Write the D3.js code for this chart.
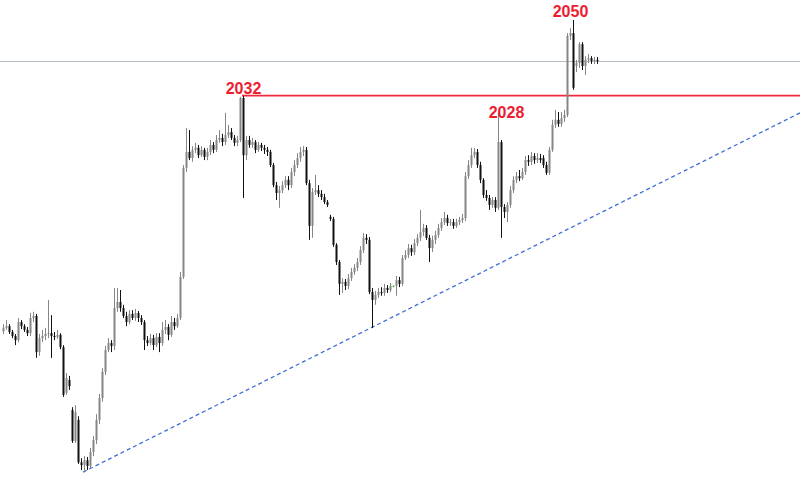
<!DOCTYPE html>
<html><head><meta charset="utf-8">
<script src="https://cdn.jsdelivr.net/npm/d3@7"></script>
<style>body{margin:0;background:#fff}svg{display:block}</style>
</head><body><svg id="c" width="800" height="482"></svg>
<script>
// candle data (price units)
const opens=[1974.8,1975.6,1976.0,1974.6,1973.6,1972.6,1977.0,1976.0,1975.1,1974.3,
1978.0,1978.5,1969.7,1973.1,1973.6,1974.1,1974.3,1973.6,1973.4,1973.9,
1970.9,1959.8,1962.9,1955.6,1948.1,1953.2,1942.9,1942.2,1943.4,1942.0,
1945.4,1948.3,1953.2,1958.5,1964.9,1970.2,1971.9,1971.2,1980.4,1981.9,
1980.4,1978.5,1977.0,1979.0,1978.0,1979.2,1978.0,1977.0,1972.6,1971.9,
1973.1,1971.4,1973.4,1971.9,1975.1,1975.8,1973.9,1977.0,1976.0,1978.0,
1988.0,2014.5,2018.4,2016.9,2018.9,2019.4,2017.6,2018.9,2017.2,2018.4,
2020.1,2018.9,2021.3,2021.8,2020.8,2022.5,2023.2,2021.8,2020.6,2021.3,
2031.5,2017.6,2021.3,2020.1,2020.8,2018.9,2020.1,2019.4,2018.9,2018.4,
2015.2,2010.3,2008.4,2009.1,2010.3,2011.6,2010.3,2013.5,2015.2,2016.9,
2018.4,2018.9,2010.8,2000.4,2008.6,2009.1,2008.2,2007.4,2006.2,2002.6,
2002.1,1995.8,1991.6,1986.3,1986.8,1985.8,1987.7,1989.2,1990.2,1991.6,
1994.5,1997.5,1997.0,1984.3,1982.4,1983.6,1984.3,1984.1,1985.3,1984.8,
1985.8,1985.8,1987.2,1986.3,1992.6,1993.3,1995.0,1994.0,1996.2,1997.5,
1998.9,1999.9,1997.5,1995.0,1997.0,1998.2,1999.9,2001.3,2002.3,2001.1,
2001.3,2000.4,2001.3,2001.8,2002.3,2012.5,2015.2,2017.6,2018.4,2015.2,
2011.6,2007.9,2007.2,2005.5,2006.7,2004.8,2020.8,2005.0,2003.8,2005.5,
2009.1,2011.6,2012.5,2012.0,2013.5,2016.4,2016.0,2017.4,2016.4,2016.9,
2016.9,2015.2,2013.3,2018.9,2025.0,2026.2,2025.2,2026.6,2027.4,2046.6,
2047.3,2039.3,2040.0,2044.6,2039.3,2040.8,2041.2,2040.5,2040.8];
const highs=[1976.5,1977.5,1976.5,1975.1,1974.1,1978.0,1977.5,1976.5,1975.8,1979.2,
1979.5,1979.0,1974.1,1975.1,1975.6,1982.4,1978.7,1974.6,1975.1,1974.3,
1971.4,1964.6,1963.9,1956.3,1956.8,1954.1,1943.9,1944.4,1944.2,1946.4,
1949.3,1954.6,1959.5,1965.8,1971.2,1973.1,1972.6,1985.3,1985.3,1984.8,
1981.2,1979.5,1979.9,1979.9,1980.2,1979.7,1978.7,1977.5,1973.6,1974.1,
1973.9,1974.3,1974.3,1977.0,1977.5,1976.5,1978.5,1978.0,1979.0,1989.2,
2015.2,2024.2,2023.7,2019.8,2020.6,2020.1,2019.8,2019.4,2019.4,2021.3,
2020.8,2022.5,2023.7,2022.8,2027.9,2025.0,2024.2,2022.5,2022.3,2031.8,
2032.0,2022.3,2022.3,2021.8,2021.3,2020.8,2020.6,2020.1,2019.6,2018.9,
2015.7,2011.1,2010.1,2011.3,2012.5,2012.5,2014.5,2016.4,2018.1,2019.6,
2019.8,2019.6,2011.6,2009.6,2012.8,2010.3,2009.1,2008.2,2006.7,2003.1,
2002.6,1996.2,1992.1,1987.7,1987.5,1988.7,1990.2,1991.1,1992.6,1995.5,
1998.7,1998.4,1997.7,1985.3,1984.6,1985.3,1985.5,1986.3,1986.0,1986.5,
1986.0,1988.2,1988.0,1993.3,1994.5,1996.0,1995.8,1997.2,1998.4,2004.3,
2000.9,2000.6,1998.2,1998.0,1999.2,2000.9,2002.3,2003.8,2003.1,2002.1,
2002.1,2002.1,2002.6,2003.3,2013.5,2016.4,2019.4,2019.4,2019.1,2016.0,
2012.0,2009.1,2007.9,2007.4,2007.4,2027.9,2021.3,2005.7,2006.2,2010.1,
2012.5,2013.5,2014.0,2014.5,2017.4,2017.6,2018.4,2018.1,2018.1,2017.9,
2017.6,2016.0,2019.6,2026.2,2028.6,2028.1,2028.1,2028.6,2047.3,2048.5,
2050.5,2040.8,2045.1,2045.1,2041.7,2042.2,2041.7,2041.5,2041.5];
const lows=[1974.1,1975.1,1974.1,1973.1,1971.4,1972.1,1975.3,1974.6,1973.6,1973.6,
1977.0,1968.3,1968.8,1972.1,1972.6,1973.1,1968.3,1972.6,1972.9,1970.4,
1958.8,1959.3,1960.5,1947.6,1947.6,1942.5,1941.0,1940.5,1941.0,1941.5,
1944.4,1947.3,1952.2,1957.6,1964.1,1969.7,1969.7,1970.2,1979.5,1979.5,
1978.0,1976.0,1976.5,1977.5,1977.3,1977.0,1976.3,1970.2,1971.2,1971.4,
1970.2,1970.9,1969.7,1971.2,1974.1,1972.6,1973.4,1975.1,1975.6,1977.5,
1987.5,2013.5,2016.4,2016.0,2018.1,2016.9,2017.2,2016.4,2016.4,2017.6,
2018.1,2018.4,2020.6,2019.8,2020.1,2021.8,2021.3,2019.8,2019.8,2020.8,
2007.2,2016.4,2019.4,2019.4,2018.1,2018.4,2018.6,2017.9,2017.4,2014.7,
2009.8,2006.7,2004.8,2008.4,2009.6,2009.1,2009.6,2012.5,2014.5,2016.0,
2017.4,2010.3,1997.0,1997.5,2007.9,2007.4,2006.7,2005.7,2005.0,2001.6,
1995.3,1990.9,1983.6,1984.1,1984.8,1985.0,1987.0,1988.5,1989.4,1990.9,
1993.8,1996.0,1983.8,1975.6,1981.2,1982.9,1983.4,1983.4,1984.1,1984.3,
1985.5,1983.4,1985.5,1985.8,1992.1,1992.6,1993.1,1993.3,1995.5,1996.7,
1997.9,1997.0,1991.6,1994.0,1996.0,1997.5,1999.2,2000.6,2000.4,2000.4,
1999.7,1999.9,2000.6,2001.1,2001.6,2011.8,2014.5,2016.9,2014.5,2010.8,
2007.2,2006.5,2004.3,2004.8,2003.8,2004.3,1997.5,2002.3,2001.3,2004.8,
2008.4,2010.8,2011.3,2011.6,2012.8,2015.0,2015.2,2015.5,2015.7,2015.7,
2014.5,2012.8,2012.8,2018.4,2024.2,2024.5,2024.5,2025.7,2026.9,2045.6,
2033.5,2037.8,2038.8,2038.3,2037.1,2040.0,2039.8,2039.8,2039.8];
const closes=[1975.6,1976.0,1974.6,1973.6,1972.6,1977.0,1976.0,1975.1,1974.3,1978.0,
1978.5,1969.7,1973.1,1973.6,1974.1,1974.3,1973.6,1973.4,1973.9,1970.9,
1959.3,1963.4,1961.4,1948.1,1955.1,1942.9,1942.2,1943.4,1942.0,1945.4,
1948.3,1953.2,1958.5,1964.9,1970.2,1971.9,1971.2,1980.4,1981.9,1980.4,
1978.5,1977.0,1979.0,1978.0,1979.2,1978.0,1977.0,1972.6,1971.9,1973.1,
1971.4,1973.4,1971.9,1975.1,1975.8,1973.9,1977.0,1976.0,1978.0,1988.0,
2014.5,2018.4,2016.9,2018.9,2019.4,2017.6,2018.9,2017.2,2018.4,2020.1,
2018.9,2021.3,2021.8,2020.8,2022.5,2023.2,2021.8,2020.6,2021.3,2031.5,
2017.6,2021.3,2020.1,2020.8,2018.9,2020.1,2019.4,2018.9,2018.4,2015.2,
2010.3,2008.4,2009.1,2010.3,2011.6,2010.3,2013.5,2015.2,2016.9,2018.4,
2018.9,2010.8,2000.4,2008.6,2009.1,2008.2,2007.4,2006.2,2005.5,2002.1,
1995.8,1991.6,1986.3,1986.8,1985.8,1987.7,1989.2,1990.2,1991.6,1994.5,
1997.5,1997.0,1984.3,1982.4,1983.6,1984.3,1984.1,1985.3,1984.8,1985.8,
1985.8,1987.2,1986.3,1992.6,1993.3,1995.0,1994.0,1996.2,1997.5,1998.9,
1999.9,1997.5,1995.0,1997.0,1998.2,1999.9,2001.3,2002.3,2001.1,2001.3,
2000.4,2001.3,2001.8,2002.3,2012.5,2015.2,2017.6,2018.4,2015.2,2011.6,
2007.9,2007.2,2005.5,2006.7,2004.8,2020.8,2005.0,2003.8,2005.5,2009.1,
2011.6,2012.5,2012.0,2013.5,2016.4,2016.0,2017.4,2016.4,2016.9,2016.4,
2015.2,2013.3,2018.9,2025.0,2026.2,2025.2,2026.6,2027.4,2046.6,2047.3,
2034.0,2040.0,2044.6,2039.3,2040.8,2041.2,2040.5,2040.8,2040.5];

// reference levels
const currentPrice=2040.5;
const resistanceLevel=2032.1;
const resistanceStartIndex=80;
const trendAnchorIdx=[27,123];
const trendAnchorPrice=[1940.5,1975.6];
// peak labels
const labelTexts=["2032","2028","2050"];
const labelIdx=[80,165,190];
const labelPrices=[2032.0,2027.9,2050.5];

const W=800,H=482;
const svg=d3.select("#c");
const x=d3.scaleLinear().domain([0,266]).range([2,800]);
const y=d3.scaleLinear().domain([1938.1,2055.35]).range([H,0]);

const data=closes.map((c,i)=>({i,o:opens[i],h:highs[i],l:lows[i],c}));

// current price line
svg.append("line").attr("x1",0).attr("x2",W)
  .attr("y1",Math.round(y(currentPrice))+0.5).attr("y2",Math.round(y(currentPrice))+0.5)
  .attr("stroke","#b4bcc6").attr("stroke-width",1);

// resistance line
svg.append("line").attr("x1",x(resistanceStartIndex)).attr("x2",W)
  .attr("y1",y(resistanceLevel)).attr("y2",y(resistanceLevel))
  .attr("stroke","#f0283c").attr("stroke-width",1.6);

// trendline extended to the right edge
const slope=(trendAnchorPrice[1]-trendAnchorPrice[0])/(trendAnchorIdx[1]-trendAnchorIdx[0]);
const endIdx=x.domain()[1];
svg.append("line")
  .attr("x1",x(trendAnchorIdx[0])).attr("y1",y(trendAnchorPrice[0]))
  .attr("x2",x(endIdx)).attr("y2",y(trendAnchorPrice[0]+slope*(endIdx-trendAnchorIdx[0])))
  .attr("stroke","#3f6fd6").attr("stroke-width",1.3).attr("stroke-dasharray","4,3");

// candles
const g=svg.append("g");
const col=d=>d.c>d.o?"#868686":(d.c<d.o?"#111":"#3c3");
g.selectAll(".w").data(data).join("line")
  .attr("x1",d=>x(d.i)+1.5).attr("x2",d=>x(d.i)+1.5)
  .attr("y1",d=>y(d.h)).attr("y2",d=>y(d.l))
  .attr("stroke",col).attr("stroke-width",1);
g.selectAll(".b").data(data).join("rect")
  .attr("x",d=>x(d.i)+0.5).attr("width",2)
  .attr("y",d=>Math.min(y(d.o),y(d.c)))
  .attr("height",d=>Math.max(1,Math.abs(y(d.o)-y(d.c))))
  .attr("fill",col);

// labels
const labelOffsets=[[0,-2],[8,5],[-3,-3]];
svg.selectAll(".lab").data(labelTexts).join("text")
  .attr("x",(t,k)=>x(labelIdx[k])+1.5+labelOffsets[k][0])
  .attr("y",(t,k)=>y(labelPrices[k])+labelOffsets[k][1])
  .attr("text-anchor","middle")
  .attr("font-family","'Liberation Sans', Arial, sans-serif")
  .attr("font-weight","bold").attr("font-size",16)
  .attr("fill","#ee1c30").text(t=>t);
</script></body></html>
